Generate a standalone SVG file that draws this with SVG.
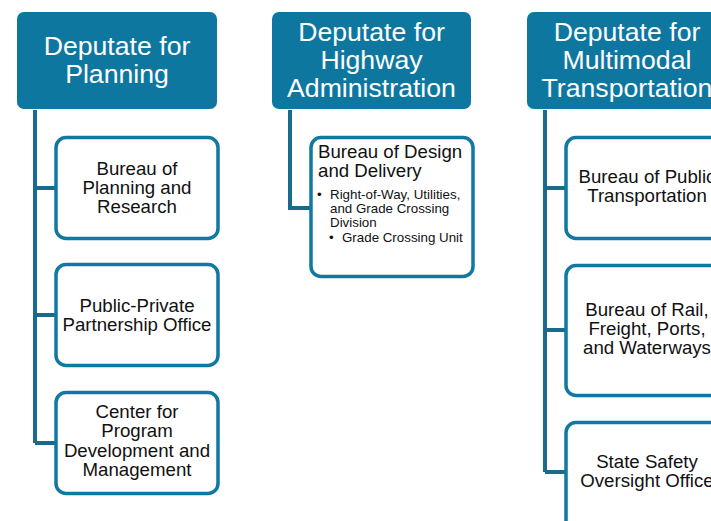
<svg xmlns="http://www.w3.org/2000/svg" width="711" height="521" viewBox="0 0 711 521">
<style>
.hdr{fill:#0e77a0}
.box{fill:#fff;stroke:#1178a1;stroke-width:3.5}
.ht{font-family:"Liberation Sans",Arial,sans-serif;font-size:26.67px;fill:#fff;text-anchor:middle}
.bt{font-family:"Liberation Sans",Arial,sans-serif;font-size:18.67px;fill:#111;text-anchor:middle}
.bl{font-family:"Liberation Sans",Arial,sans-serif;font-size:18.67px;fill:#111}
.sm{font-family:"Liberation Sans",Arial,sans-serif;font-size:13.33px;fill:#111}
.con{fill:none;stroke:#186b8d;stroke-width:4}
</style>
<rect width="711" height="521" fill="#fff"/>
<g id="connectors">
<path class="con" d="M35 110V443M35 188H57M35 315H57M35 443H57"/>
<path class="con" d="M290 110V208H312"/>
<path class="con" d="M545 110V472M545 188H567M545 330H567M545 472H567"/>
</g>
<g id="h1"><rect class="hdr" x="17" y="12" width="200" height="97" rx="7"/>
<text class="ht" x="117" y="55">Deputate for</text><text class="ht" x="117" y="83">Planning</text></g>
<g id="h2"><rect class="hdr" x="272" y="12" width="199" height="97" rx="7"/>
<text class="ht" x="371.5" y="41">Deputate for</text><text class="ht" x="371.5" y="69">Highway</text><text class="ht" x="371.5" y="97">Administration</text></g>
<g id="h3"><rect class="hdr" x="527" y="12" width="200" height="97" rx="7"/>
<text class="ht" x="627" y="41">Deputate for</text><text class="ht" x="627" y="69">Multimodal</text><text class="ht" x="627" y="97">Transportation</text></g>
<g id="p1"><rect class="box" x="56" y="137.5" width="162" height="101" rx="10"/>
<text class="bt" x="137" y="175">Bureau of</text><text class="bt" x="137" y="194">Planning and</text><text class="bt" x="137" y="213">Research</text></g>
<g id="p2"><rect class="box" x="56" y="264.5" width="162" height="101" rx="10"/>
<text class="bt" x="137" y="312">Public-Private</text><text class="bt" x="137" y="331">Partnership Office</text></g>
<g id="p3"><rect class="box" x="56" y="392.5" width="162" height="101" rx="10"/>
<text class="bt" x="137" y="418">Center for</text><text class="bt" x="137" y="437.3">Program</text><text class="bt" x="137" y="456.6">Development and</text><text class="bt" x="137" y="476">Management</text></g>
<g id="d1"><rect class="box" x="311" y="137.5" width="162" height="139" rx="10"/>
<text class="bl" x="318" y="158">Bureau of Design</text><text class="bl" x="318" y="177">and Delivery</text>
<text class="sm" x="317" y="199">•</text><text class="sm" x="330" y="199">Right-of-Way, Utilities,</text>
<text class="sm" x="330" y="213">and Grade Crossing</text><text class="sm" x="330" y="226.5">Division</text>
<text class="sm" x="329" y="241.5">•</text><text class="sm" x="342" y="241.5">Grade Crossing Unit</text></g>
<g id="m1"><rect class="box" x="566" y="137.5" width="162" height="101" rx="10"/>
<text class="bt" x="647" y="183">Bureau of Public</text><text class="bt" x="647" y="202">Transportation</text></g>
<g id="m2"><rect class="box" x="566" y="265.5" width="162" height="130" rx="10"/>
<text class="bt" x="647" y="316">Bureau of Rail,</text><text class="bt" x="647" y="335">Freight, Ports,</text><text class="bt" x="647" y="354">and Waterways</text></g>
<g id="m3"><rect class="box" x="566" y="422.5" width="162" height="110" rx="10"/>
<text class="bt" x="647" y="468">State Safety</text><text class="bt" x="647" y="487">Oversight Office</text></g>
</svg>
